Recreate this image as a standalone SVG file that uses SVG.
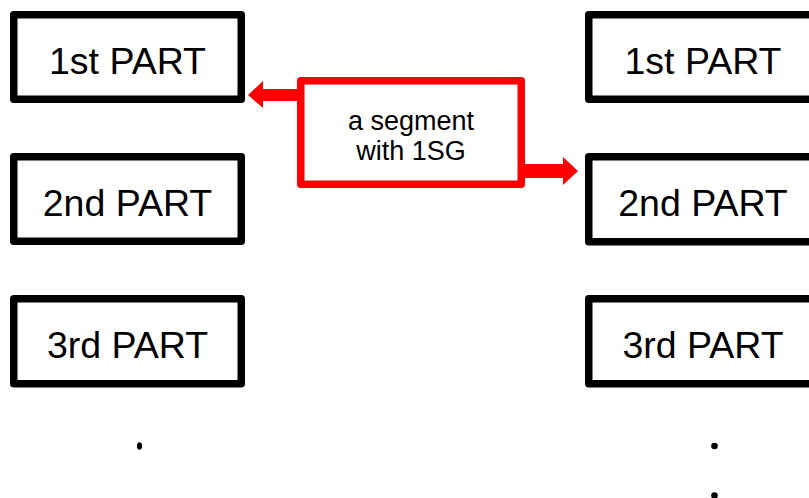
<svg xmlns="http://www.w3.org/2000/svg" width="809" height="498" viewBox="0 0 809 498">
  <style>
    .part { fill: #ffffff; stroke: #000000; stroke-width: 7.5; stroke-linejoin: round; }
    .seg { fill: #ffffff; stroke: #ff0000; stroke-width: 7.5; stroke-linejoin: round; }
    .lbl { font-family: "Liberation Sans", Arial, sans-serif; font-size: 37.5px; fill: #000000; text-anchor: middle; }
    .seglbl { font-family: "Liberation Sans", Arial, sans-serif; font-size: 27px; fill: #000000; text-anchor: middle; }
    .dot { fill: #000000; }
    .arrow { fill: #ff0000; }
  </style>

  <!-- left column -->
  <g id="left-part1">
    <rect class="part" x="13.75" y="14.75" width="227.5" height="84.5"/>
    <text class="lbl" x="127.5" y="73.5">1st PART</text>
  </g>
  <g id="left-part2">
    <rect class="part" x="13.75" y="156.75" width="227.5" height="84.5"/>
    <text class="lbl" x="127.5" y="215.5">2nd PART</text>
  </g>
  <g id="left-part3">
    <rect class="part" x="13.75" y="298.75" width="227.5" height="85"/>
    <text class="lbl" x="127.5" y="357.5">3rd PART</text>
  </g>
  <!-- continuation mark below the left column -->
  <g id="left-more">
    <ellipse class="dot" cx="139.5" cy="446" rx="2.6" ry="3.8"/>
  </g>

  <!-- right column -->
  <g id="right-part1">
    <rect class="part" x="588.75" y="14.75" width="227.5" height="84.5"/>
    <text class="lbl" x="703" y="73.5">1st PART</text>
  </g>
  <g id="right-part2">
    <rect class="part" x="588.75" y="156.75" width="227.5" height="85"/>
    <text class="lbl" x="703" y="215.5">2nd PART</text>
  </g>
  <g id="right-part3">
    <rect class="part" x="588.75" y="298.75" width="227.5" height="85"/>
    <text class="lbl" x="703" y="357.5">3rd PART</text>
  </g>
  <!-- vertical continuation dots below the right column -->
  <g id="right-more">
    <circle class="dot" cx="714.5" cy="446" r="3.3"/>
    <circle class="dot" cx="714.5" cy="495.5" r="3.3"/>
  </g>

  <!-- segment box -->
  <g id="segment">
    <rect class="seg" x="300.75" y="80.75" width="220.5" height="103.5"/>
    <text class="seglbl" x="411" y="130">a segment</text>
    <text class="seglbl" x="411" y="160">with 1SG</text>
  </g>

  <!-- block arrows -->
  <g id="connectors">
    <polygon class="arrow" points="298,89 263,89 263,81 248,95 263,108 263,101 298,101"/>
    <polygon class="arrow" points="524,164 563,164 563,157 578,171 563,185 563,178 524,178"/>
  </g>
</svg>
